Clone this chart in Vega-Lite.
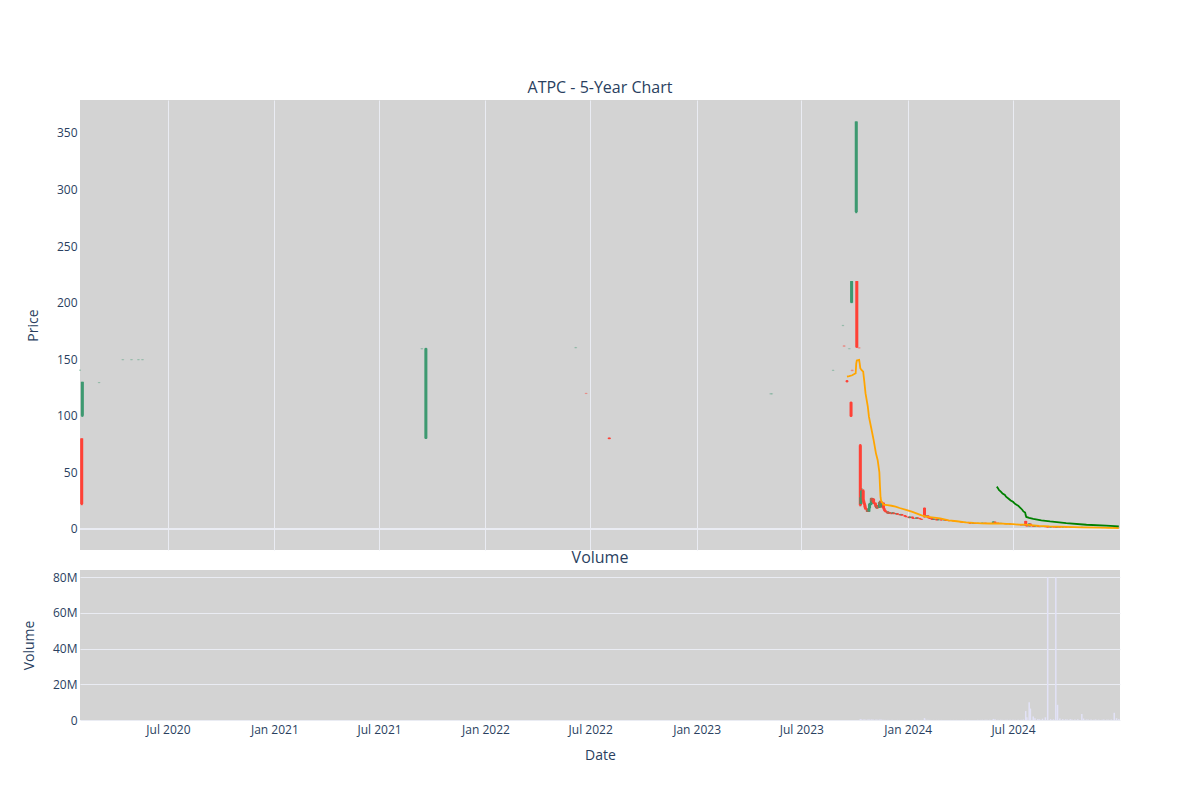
{
  "$schema": "https://vega.github.io/schema/vega-lite/v6.json",
  "background": "white",
  "padding": {"left": 22, "top": 80, "right": 40, "bottom": 20},
  "spacing": 20,
  "bounds": "flush",
  "datasets": {
    "candles": [
      {"date": "2020-01-31", "open": 140, "high": 140.8, "low": 139.5, "close": 140, "volume": 200},
      {"date": "2020-02-03", "open": 80, "high": 80, "low": 21, "close": 22, "volume": 5000},
      {"date": "2020-02-04", "open": 100, "high": 130, "low": 99, "close": 130, "volume": 3000},
      {"date": "2020-03-04", "open": 129, "high": 129.8, "low": 128.8, "close": 129.3, "volume": 100},
      {"date": "2020-04-14", "open": 149.3, "high": 150, "low": 149, "close": 149.6, "volume": 100},
      {"date": "2020-04-29", "open": 149.3, "high": 150, "low": 149, "close": 149.6, "volume": 100},
      {"date": "2020-05-11", "open": 149.3, "high": 150, "low": 149, "close": 149.6, "volume": 100},
      {"date": "2020-05-18", "open": 149.3, "high": 150, "low": 149, "close": 149.6, "volume": 100},
      {"date": "2021-09-13", "open": 159, "high": 159.8, "low": 158.6, "close": 159.3, "volume": 100},
      {"date": "2021-09-20", "open": 80, "high": 160, "low": 79.5, "close": 159.5, "volume": 3000},
      {"date": "2022-06-06", "open": 160, "high": 160.8, "low": 159.6, "close": 160.3, "volume": 100},
      {"date": "2022-06-24", "open": 120, "high": 120.3, "low": 119.2, "close": 119.5, "volume": 100},
      {"date": "2022-08-03", "open": 80.5, "high": 80.8, "low": 79.3, "close": 79.5, "volume": 1500},
      {"date": "2023-05-09", "open": 119.2, "high": 119.8, "low": 118.9, "close": 119.4, "volume": 100},
      {"date": "2023-05-11", "open": 119.2, "high": 119.8, "low": 118.9, "close": 119.4, "volume": 100},
      {"date": "2023-08-25", "open": 140, "high": 140.7, "low": 139.6, "close": 140.2, "volume": 100},
      {"date": "2023-09-11", "open": 179.6, "high": 180.3, "low": 179.2, "close": 179.8, "volume": 100},
      {"date": "2023-09-13", "open": 162, "high": 162.3, "low": 161, "close": 161.2, "volume": 100},
      {"date": "2023-09-18", "open": 131, "high": 131.5, "low": 129.5, "close": 130, "volume": 1500},
      {"date": "2023-09-22", "open": 159, "high": 159.7, "low": 158.7, "close": 159.2, "volume": 100},
      {"date": "2023-09-25", "open": 112, "high": 112.5, "low": 99, "close": 99.5, "volume": 2000},
      {"date": "2023-09-26", "open": 200, "high": 219, "low": 199.5, "close": 219, "volume": 3000},
      {"date": "2023-09-27", "open": 140.5, "high": 140.8, "low": 139.3, "close": 139.6, "volume": 100},
      {"date": "2023-10-04", "open": 280, "high": 360, "low": 279, "close": 360, "volume": 5000},
      {"date": "2023-10-05", "open": 219, "high": 219, "low": 160, "close": 160.5, "volume": 5000},
      {"date": "2023-10-09", "open": 160.3, "high": 160.6, "low": 159.4, "close": 159.6, "volume": 100},
      {"date": "2023-10-11", "open": 74, "high": 75, "low": 20, "close": 21, "volume": 500000},
      {"date": "2023-10-12", "open": 22, "high": 30, "low": 21, "close": 28, "volume": 250000},
      {"date": "2023-10-13", "open": 28, "high": 36, "low": 26, "close": 34, "volume": 300000},
      {"date": "2023-10-16", "open": 34, "high": 35, "low": 24, "close": 25, "volume": 200000},
      {"date": "2023-10-17", "open": 25, "high": 26, "low": 22, "close": 23, "volume": 150000},
      {"date": "2023-10-18", "open": 23, "high": 24, "low": 21, "close": 21.5, "volume": 120000},
      {"date": "2023-10-19", "open": 21.5, "high": 22, "low": 18, "close": 19, "volume": 130000},
      {"date": "2023-10-20", "open": 19, "high": 20, "low": 17, "close": 17.5, "volume": 110000},
      {"date": "2023-10-23", "open": 17.5, "high": 18, "low": 15, "close": 15.5, "volume": 120000},
      {"date": "2023-10-24", "open": 15.5, "high": 17, "low": 15, "close": 16.5, "volume": 90000},
      {"date": "2023-10-25", "open": 16.5, "high": 17, "low": 15, "close": 15.3, "volume": 80000},
      {"date": "2023-10-26", "open": 15.3, "high": 19, "low": 15, "close": 18.5, "volume": 160000},
      {"date": "2023-10-27", "open": 18.5, "high": 23, "low": 18, "close": 22, "volume": 200000},
      {"date": "2023-10-30", "open": 22, "high": 27.5, "low": 21, "close": 27, "volume": 260000},
      {"date": "2023-10-31", "open": 27, "high": 27.5, "low": 24, "close": 25, "volume": 150000},
      {"date": "2023-11-01", "open": 25, "high": 26, "low": 23, "close": 24, "volume": 100000},
      {"date": "2023-11-02", "open": 24, "high": 27, "low": 23.5, "close": 26.5, "volume": 120000},
      {"date": "2023-11-03", "open": 26.5, "high": 27, "low": 22, "close": 23, "volume": 110000},
      {"date": "2023-11-06", "open": 23, "high": 23.5, "low": 20, "close": 21, "volume": 90000},
      {"date": "2023-11-07", "open": 21, "high": 22, "low": 19, "close": 19.5, "volume": 80000},
      {"date": "2023-11-08", "open": 19.5, "high": 20, "low": 18, "close": 18.5, "volume": 70000},
      {"date": "2023-11-09", "open": 18.5, "high": 21, "low": 18, "close": 20.5, "volume": 90000},
      {"date": "2023-11-10", "open": 20.5, "high": 21, "low": 18, "close": 18.8, "volume": 80000},
      {"date": "2023-11-13", "open": 18.8, "high": 24, "low": 18.5, "close": 23.5, "volume": 180000},
      {"date": "2023-11-14", "open": 23.5, "high": 25, "low": 21, "close": 22, "volume": 120000},
      {"date": "2023-11-15", "open": 22, "high": 24.5, "low": 21.5, "close": 24, "volume": 110000},
      {"date": "2023-11-16", "open": 24, "high": 24.5, "low": 19, "close": 19.5, "volume": 100000},
      {"date": "2023-11-17", "open": 19.5, "high": 24, "low": 19, "close": 23, "volume": 120000},
      {"date": "2023-11-20", "open": 23, "high": 23.5, "low": 18, "close": 18.5, "volume": 90000},
      {"date": "2023-11-21", "open": 18.5, "high": 19, "low": 17, "close": 17.2, "volume": 70000},
      {"date": "2023-11-22", "open": 17.2, "high": 17.5, "low": 15.5, "close": 16, "volume": 60000},
      {"date": "2023-11-24", "open": 16, "high": 16.5, "low": 14.5, "close": 15, "volume": 50000},
      {"date": "2023-11-27", "open": 15, "high": 15.5, "low": 13.5, "close": 14, "volume": 60000},
      {"date": "2023-11-28", "open": 14, "high": 15.5, "low": 13.8, "close": 15, "volume": 70000},
      {"date": "2023-11-29", "open": 15, "high": 15.2, "low": 13.5, "close": 14, "volume": 50000},
      {"date": "2023-11-30", "open": 14, "high": 14.8, "low": 13.6, "close": 14.5, "volume": 50000},
      {"date": "2023-12-01", "open": 14.5, "high": 14.8, "low": 13.5, "close": 13.8, "volume": 40000},
      {"date": "2023-12-04", "open": 13.8, "high": 14.5, "low": 13, "close": 13.5, "volume": 50000},
      {"date": "2023-12-06", "open": 13.5, "high": 14.8, "low": 13.2, "close": 14.3, "volume": 60000},
      {"date": "2023-12-08", "open": 14.3, "high": 14.5, "low": 13, "close": 13.2, "volume": 40000},
      {"date": "2023-12-12", "open": 13.2, "high": 14, "low": 12.8, "close": 13.8, "volume": 50000},
      {"date": "2023-12-14", "open": 13.8, "high": 14, "low": 12.5, "close": 12.8, "volume": 40000},
      {"date": "2023-12-18", "open": 12.8, "high": 13.2, "low": 12, "close": 12.4, "volume": 40000},
      {"date": "2023-12-20", "open": 12.4, "high": 13.3, "low": 12, "close": 13, "volume": 50000},
      {"date": "2023-12-22", "open": 13, "high": 13.2, "low": 11.8, "close": 12, "volume": 40000},
      {"date": "2023-12-27", "open": 12, "high": 12.3, "low": 10.8, "close": 11.2, "volume": 50000},
      {"date": "2023-12-29", "open": 11.2, "high": 11.6, "low": 10.3, "close": 10.6, "volume": 50000},
      {"date": "2024-01-03", "open": 10.6, "high": 11, "low": 9.5, "close": 9.8, "volume": 60000},
      {"date": "2024-01-05", "open": 9.8, "high": 11, "low": 9.6, "close": 10.7, "volume": 70000},
      {"date": "2024-01-09", "open": 10.7, "high": 11, "low": 9.3, "close": 9.6, "volume": 50000},
      {"date": "2024-01-11", "open": 9.6, "high": 9.9, "low": 8.8, "close": 9.1, "volume": 40000},
      {"date": "2024-01-16", "open": 9.1, "high": 10.2, "low": 9, "close": 10, "volume": 60000},
      {"date": "2024-01-18", "open": 10, "high": 10.3, "low": 9, "close": 9.4, "volume": 40000},
      {"date": "2024-01-22", "open": 9.4, "high": 9.8, "low": 8.5, "close": 8.8, "volume": 40000},
      {"date": "2024-01-25", "open": 8.8, "high": 9, "low": 8, "close": 8.4, "volume": 40000},
      {"date": "2024-01-30", "open": 18.5, "high": 19, "low": 10, "close": 11, "volume": 1100000},
      {"date": "2024-02-01", "open": 11, "high": 12, "low": 10.5, "close": 11.8, "volume": 200000},
      {"date": "2024-02-05", "open": 11.8, "high": 12, "low": 9.5, "close": 10, "volume": 100000},
      {"date": "2024-02-08", "open": 10, "high": 10.3, "low": 8.8, "close": 9.2, "volume": 60000},
      {"date": "2024-02-12", "open": 9.2, "high": 9.5, "low": 8, "close": 8.3, "volume": 50000},
      {"date": "2024-02-15", "open": 8.3, "high": 9.2, "low": 8, "close": 8.9, "volume": 50000},
      {"date": "2024-02-20", "open": 8.9, "high": 9, "low": 7.5, "close": 7.8, "volume": 40000},
      {"date": "2024-02-23", "open": 7.8, "high": 8.6, "low": 7.6, "close": 8.3, "volume": 40000},
      {"date": "2024-02-28", "open": 8.3, "high": 8.5, "low": 7.4, "close": 7.7, "volume": 40000},
      {"date": "2024-03-04", "open": 7.7, "high": 8.5, "low": 7.5, "close": 8.2, "volume": 50000},
      {"date": "2024-03-07", "open": 8.2, "high": 8.3, "low": 7.2, "close": 7.4, "volume": 40000},
      {"date": "2024-03-12", "open": 7.4, "high": 7.7, "low": 6.8, "close": 7.1, "volume": 40000},
      {"date": "2024-03-15", "open": 7.1, "high": 7.9, "low": 7, "close": 7.6, "volume": 50000},
      {"date": "2024-03-20", "open": 7.6, "high": 7.7, "low": 6.7, "close": 6.9, "volume": 40000},
      {"date": "2024-03-25", "open": 6.9, "high": 7.1, "low": 6.2, "close": 6.4, "volume": 40000},
      {"date": "2024-03-28", "open": 6.4, "high": 7, "low": 6.2, "close": 6.8, "volume": 50000},
      {"date": "2024-04-02", "open": 6.8, "high": 6.9, "low": 5.8, "close": 6, "volume": 50000},
      {"date": "2024-04-05", "open": 6, "high": 6.2, "low": 5.4, "close": 5.6, "volume": 50000},
      {"date": "2024-04-10", "open": 5.6, "high": 6.3, "low": 5.5, "close": 6.1, "volume": 60000},
      {"date": "2024-04-15", "open": 6.1, "high": 6.2, "low": 5.1, "close": 5.3, "volume": 50000},
      {"date": "2024-04-18", "open": 5.3, "high": 5.5, "low": 4.6, "close": 4.8, "volume": 60000},
      {"date": "2024-04-23", "open": 4.8, "high": 5.5, "low": 4.7, "close": 5.3, "volume": 70000},
      {"date": "2024-04-26", "open": 5.3, "high": 5.4, "low": 4.5, "close": 4.7, "volume": 60000},
      {"date": "2024-05-01", "open": 4.7, "high": 5.4, "low": 4.6, "close": 5.2, "volume": 80000},
      {"date": "2024-05-06", "open": 5.2, "high": 5.3, "low": 4.4, "close": 4.6, "volume": 70000},
      {"date": "2024-05-09", "open": 4.6, "high": 5.6, "low": 4.5, "close": 5.4, "volume": 150000},
      {"date": "2024-05-14", "open": 5.4, "high": 5.5, "low": 4.6, "close": 4.8, "volume": 100000},
      {"date": "2024-05-17", "open": 4.8, "high": 5.3, "low": 4.7, "close": 5.1, "volume": 120000},
      {"date": "2024-05-22", "open": 5.1, "high": 5.2, "low": 4.4, "close": 4.6, "volume": 200000},
      {"date": "2024-05-28", "open": 4.6, "high": 6.8, "low": 4.5, "close": 6.3, "volume": 600000},
      {"date": "2024-05-31", "open": 6.3, "high": 6.5, "low": 5.2, "close": 5.4, "volume": 400000},
      {"date": "2024-06-05", "open": 5.4, "high": 5.5, "low": 4.7, "close": 4.9, "volume": 200000},
      {"date": "2024-06-10", "open": 4.9, "high": 5.4, "low": 4.8, "close": 5.2, "volume": 150000},
      {"date": "2024-06-13", "open": 5.2, "high": 5.3, "low": 4.5, "close": 4.6, "volume": 100000},
      {"date": "2024-06-18", "open": 4.6, "high": 4.8, "low": 4.1, "close": 4.3, "volume": 100000},
      {"date": "2024-06-21", "open": 4.3, "high": 4.9, "low": 4.2, "close": 4.7, "volume": 120000},
      {"date": "2024-06-26", "open": 4.7, "high": 4.8, "low": 4, "close": 4.2, "volume": 100000},
      {"date": "2024-07-01", "open": 4.2, "high": 4.4, "low": 3.7, "close": 3.9, "volume": 100000},
      {"date": "2024-07-05", "open": 3.9, "high": 4.3, "low": 3.8, "close": 4.1, "volume": 100000},
      {"date": "2024-07-10", "open": 4.1, "high": 4.2, "low": 3.4, "close": 3.6, "volume": 150000},
      {"date": "2024-07-15", "open": 3.6, "high": 3.8, "low": 3.1, "close": 3.3, "volume": 200000},
      {"date": "2024-07-19", "open": 3.3, "high": 3.7, "low": 3.2, "close": 3.5, "volume": 300000},
      {"date": "2024-07-23", "open": 7, "high": 7.2, "low": 2.8, "close": 3, "volume": 5000000},
      {"date": "2024-07-25", "open": 3, "high": 3.2, "low": 2.2, "close": 2.4, "volume": 1500000},
      {"date": "2024-07-29", "open": 2.4, "high": 5, "low": 2.3, "close": 4.6, "volume": 10000000},
      {"date": "2024-07-31", "open": 4.6, "high": 4.8, "low": 2.3, "close": 2.5, "volume": 6400000},
      {"date": "2024-08-05", "open": 2.5, "high": 2.7, "low": 1.9, "close": 2.1, "volume": 2000000},
      {"date": "2024-08-08", "open": 2.1, "high": 2.6, "low": 2, "close": 2.4, "volume": 1000000},
      {"date": "2024-08-13", "open": 2.4, "high": 2.5, "low": 1.8, "close": 2, "volume": 600000},
      {"date": "2024-08-16", "open": 2, "high": 2.1, "low": 1.6, "close": 1.8, "volume": 400000},
      {"date": "2024-08-21", "open": 1.8, "high": 2.3, "low": 1.7, "close": 2.1, "volume": 700000},
      {"date": "2024-08-26", "open": 2.1, "high": 2.2, "low": 1.5, "close": 1.7, "volume": 1500000},
      {"date": "2024-08-30", "open": 1.7, "high": 2.6, "low": 1.2, "close": 1.4, "volume": 80000000},
      {"date": "2024-09-04", "open": 1.4, "high": 1.9, "low": 1.3, "close": 1.7, "volume": 500000},
      {"date": "2024-09-09", "open": 1.7, "high": 1.8, "low": 1.3, "close": 1.5, "volume": 400000},
      {"date": "2024-09-13", "open": 1.5, "high": 2.2, "low": 1.1, "close": 1.3, "volume": 80000000},
      {"date": "2024-09-16", "open": 1.3, "high": 1.7, "low": 1.2, "close": 1.5, "volume": 8500000},
      {"date": "2024-09-20", "open": 1.5, "high": 1.6, "low": 1.1, "close": 1.2, "volume": 800000},
      {"date": "2024-09-25", "open": 1.2, "high": 1.6, "low": 1.1, "close": 1.4, "volume": 500000},
      {"date": "2024-09-30", "open": 1.4, "high": 1.5, "low": 1.1, "close": 1.2, "volume": 400000},
      {"date": "2024-10-03", "open": 1.2, "high": 1.3, "low": 1, "close": 1.1, "volume": 300000},
      {"date": "2024-10-08", "open": 1.1, "high": 1.5, "low": 1.05, "close": 1.3, "volume": 500000},
      {"date": "2024-10-11", "open": 1.3, "high": 1.35, "low": 1, "close": 1.1, "volume": 300000},
      {"date": "2024-10-16", "open": 1.1, "high": 1.2, "low": 0.95, "close": 1, "volume": 250000},
      {"date": "2024-10-21", "open": 1, "high": 1.3, "low": 0.95, "close": 1.2, "volume": 400000},
      {"date": "2024-10-28", "open": 1.2, "high": 1.9, "low": 1.1, "close": 1.6, "volume": 3400000},
      {"date": "2024-10-31", "open": 1.6, "high": 1.7, "low": 1.1, "close": 1.2, "volume": 800000},
      {"date": "2024-11-05", "open": 1.2, "high": 1.25, "low": 0.95, "close": 1, "volume": 300000},
      {"date": "2024-11-08", "open": 1, "high": 1.2, "low": 0.95, "close": 1.1, "volume": 300000},
      {"date": "2024-11-13", "open": 1.1, "high": 1.15, "low": 0.9, "close": 0.95, "volume": 250000},
      {"date": "2024-11-18", "open": 0.95, "high": 1, "low": 0.85, "close": 0.9, "volume": 200000},
      {"date": "2024-11-21", "open": 0.9, "high": 1.1, "low": 0.88, "close": 1, "volume": 300000},
      {"date": "2024-11-26", "open": 1, "high": 1.05, "low": 0.85, "close": 0.88, "volume": 200000},
      {"date": "2024-12-02", "open": 0.88, "high": 0.92, "low": 0.8, "close": 0.84, "volume": 200000},
      {"date": "2024-12-05", "open": 0.84, "high": 0.98, "low": 0.82, "close": 0.92, "volume": 250000},
      {"date": "2024-12-10", "open": 0.92, "high": 0.95, "low": 0.8, "close": 0.83, "volume": 200000},
      {"date": "2024-12-13", "open": 0.83, "high": 0.86, "low": 0.75, "close": 0.78, "volume": 200000},
      {"date": "2024-12-18", "open": 0.78, "high": 0.9, "low": 0.76, "close": 0.85, "volume": 300000},
      {"date": "2024-12-23", "open": 0.85, "high": 1.4, "low": 0.8, "close": 1.2, "volume": 4000000},
      {"date": "2024-12-27", "open": 1.2, "high": 1.25, "low": 0.8, "close": 0.85, "volume": 1000000},
      {"date": "2024-12-31", "open": 0.85, "high": 0.9, "low": 0.75, "close": 0.8, "volume": 500000}
    ],
    "ma": [
      {"date": "2023-09-18", "value": 134.6, "series": "MA20"},
      {"date": "2023-09-22", "value": 135, "series": "MA20"},
      {"date": "2023-09-27", "value": 135.8, "series": "MA20"},
      {"date": "2023-10-03", "value": 137.5, "series": "MA20"},
      {"date": "2023-10-04", "value": 146, "series": "MA20"},
      {"date": "2023-10-05", "value": 148.8, "series": "MA20"},
      {"date": "2023-10-09", "value": 149.4, "series": "MA20"},
      {"date": "2023-10-10", "value": 146, "series": "MA20"},
      {"date": "2023-10-11", "value": 142, "series": "MA20"},
      {"date": "2023-10-13", "value": 140.5, "series": "MA20"},
      {"date": "2023-10-16", "value": 139, "series": "MA20"},
      {"date": "2023-10-18", "value": 130, "series": "MA20"},
      {"date": "2023-10-20", "value": 120, "series": "MA20"},
      {"date": "2023-10-24", "value": 108, "series": "MA20"},
      {"date": "2023-10-26", "value": 99, "series": "MA20"},
      {"date": "2023-10-30", "value": 89, "series": "MA20"},
      {"date": "2023-11-03", "value": 78.7, "series": "MA20"},
      {"date": "2023-11-07", "value": 67, "series": "MA20"},
      {"date": "2023-11-10", "value": 61, "series": "MA20"},
      {"date": "2023-11-13", "value": 50, "series": "MA20"},
      {"date": "2023-11-14", "value": 38, "series": "MA20"},
      {"date": "2023-11-15", "value": 28, "series": "MA20"},
      {"date": "2023-11-16", "value": 25, "series": "MA20"},
      {"date": "2023-11-20", "value": 21.5, "series": "MA20"},
      {"date": "2023-11-27", "value": 21, "series": "MA20"},
      {"date": "2023-12-04", "value": 20.5, "series": "MA20"},
      {"date": "2023-12-11", "value": 19.7, "series": "MA20"},
      {"date": "2023-12-18", "value": 18.5, "series": "MA20"},
      {"date": "2023-12-29", "value": 16.8, "series": "MA20"},
      {"date": "2024-01-08", "value": 15.3, "series": "MA20"},
      {"date": "2024-01-16", "value": 13.8, "series": "MA20"},
      {"date": "2024-01-25", "value": 12, "series": "MA20"},
      {"date": "2024-02-02", "value": 10.9, "series": "MA20"},
      {"date": "2024-02-12", "value": 10.2, "series": "MA20"},
      {"date": "2024-02-26", "value": 9.3, "series": "MA20"},
      {"date": "2024-03-12", "value": 7.6, "series": "MA20"},
      {"date": "2024-03-26", "value": 6.8, "series": "MA20"},
      {"date": "2024-04-10", "value": 5.8, "series": "MA20"},
      {"date": "2024-04-24", "value": 5.3, "series": "MA20"},
      {"date": "2024-05-08", "value": 5, "series": "MA20"},
      {"date": "2024-05-22", "value": 4.8, "series": "MA20"},
      {"date": "2024-06-06", "value": 4.9, "series": "MA20"},
      {"date": "2024-06-20", "value": 4.5, "series": "MA20"},
      {"date": "2024-07-01", "value": 4.2, "series": "MA20"},
      {"date": "2024-07-12", "value": 3.8, "series": "MA20"},
      {"date": "2024-07-23", "value": 3.8, "series": "MA20"},
      {"date": "2024-08-01", "value": 3.4, "series": "MA20"},
      {"date": "2024-08-15", "value": 2.7, "series": "MA20"},
      {"date": "2024-09-02", "value": 2.2, "series": "MA20"},
      {"date": "2024-10-01", "value": 1.8, "series": "MA20"},
      {"date": "2024-10-28", "value": 1.4, "series": "MA20"},
      {"date": "2024-11-28", "value": 1.1, "series": "MA20"},
      {"date": "2024-12-31", "value": 0.8, "series": "MA20"},
      {"date": "2024-06-03", "value": 37.4, "series": "MA200"},
      {"date": "2024-06-05", "value": 36, "series": "MA200"},
      {"date": "2024-06-07", "value": 34.3, "series": "MA200"},
      {"date": "2024-06-10", "value": 33, "series": "MA200"},
      {"date": "2024-06-13", "value": 31.2, "series": "MA200"},
      {"date": "2024-06-17", "value": 30, "series": "MA200"},
      {"date": "2024-06-19", "value": 28.5, "series": "MA200"},
      {"date": "2024-06-24", "value": 26.5, "series": "MA200"},
      {"date": "2024-06-27", "value": 25.2, "series": "MA200"},
      {"date": "2024-07-01", "value": 24, "series": "MA200"},
      {"date": "2024-07-05", "value": 22, "series": "MA200"},
      {"date": "2024-07-10", "value": 20.6, "series": "MA200"},
      {"date": "2024-07-12", "value": 19.5, "series": "MA200"},
      {"date": "2024-07-17", "value": 17, "series": "MA200"},
      {"date": "2024-07-19", "value": 15.5, "series": "MA200"},
      {"date": "2024-07-22", "value": 14.5, "series": "MA200"},
      {"date": "2024-07-23", "value": 12.2, "series": "MA200"},
      {"date": "2024-07-24", "value": 10.6, "series": "MA200"},
      {"date": "2024-07-29", "value": 9.8, "series": "MA200"},
      {"date": "2024-08-05", "value": 8.8, "series": "MA200"},
      {"date": "2024-08-19", "value": 7.6, "series": "MA200"},
      {"date": "2024-09-03", "value": 6.6, "series": "MA200"},
      {"date": "2024-10-01", "value": 5.1, "series": "MA200"},
      {"date": "2024-11-05", "value": 3.7, "series": "MA200"},
      {"date": "2024-12-09", "value": 2.9, "series": "MA200"},
      {"date": "2024-12-31", "value": 2.3, "series": "MA200"}
    ]
  },
  "vconcat": [
    {
      "title": "ATPC - 5-Year Chart",
      "width": 1040,
      "height": 450,
      "layer": [
        {
          "data": {"values": [{}]},
          "mark": {"type": "rule", "color": "#eaecf3", "strokeWidth": 2},
          "encoding": {
            "y": {"datum": 0, "type": "quantitative", "scale": {"domain": [-18.6, 379], "nice": false, "zero": false, "padding": 0}}
          }
        },
        {
          "data": {"name": "candles"},
          "mark": {"type": "rule", "strokeWidth": 2},
          "encoding": {
            "x": {"field": "date", "type": "temporal", "scale": {"type": "utc", "nice": false, "padding": 0, "domain": [{"year": 2020, "month": 1, "date": 31, "utc": true}, {"year": 2025, "month": 1, "date": 2, "utc": true}]},
              "axis": {"values": [
                {"year": 2020, "month": 7, "date": 1, "utc": true}, {"year": 2021, "month": 1, "date": 1, "utc": true},
                {"year": 2021, "month": 7, "date": 1, "utc": true}, {"year": 2022, "month": 1, "date": 1, "utc": true},
                {"year": 2022, "month": 7, "date": 1, "utc": true}, {"year": 2023, "month": 1, "date": 1, "utc": true},
                {"year": 2023, "month": 7, "date": 1, "utc": true}, {"year": 2024, "month": 1, "date": 1, "utc": true},
                {"year": 2024, "month": 7, "date": 1, "utc": true}], "labels": false, "title": null, "grid": true}},
            "y": {"field": "low", "type": "quantitative", "axis": {"values": [0, 50, 100, 150, 200, 250, 300, 350], "title": "Price", "titlePadding": 16, "labelPadding": 3}},
            "y2": {"field": "high"},
            "color": {"condition": {"test": "datum.close >= datum.open", "value": "#3D9970"}, "value": "#FF4136"},
            "opacity": {"condition": {"test": "datum.volume < 1000", "value": 0.35}, "value": 1}
          }
        },
        {
          "data": {"name": "candles"},
          "mark": {"type": "bar", "size": 3},
          "encoding": {
            "x": {"field": "date", "type": "temporal"},
            "y": {"field": "open", "type": "quantitative"},
            "y2": {"field": "close"},
            "color": {"condition": {"test": "datum.close >= datum.open", "value": "#3D9970"}, "value": "#FF4136"},
            "opacity": {"condition": {"test": "datum.volume < 1000", "value": 0.35}, "value": 1}
          }
        },
        {
          "data": {"name": "ma"},
          "mark": {"type": "line", "strokeWidth": 1.8},
          "encoding": {
            "x": {"field": "date", "type": "temporal"},
            "y": {"field": "value", "type": "quantitative"},
            "color": {"field": "series", "type": "nominal", "scale": {"domain": ["MA20", "MA200"], "range": ["#FFA500", "#008000"]}, "legend": null}
          }
        }
      ]
    },
    {
      "title": "Volume",
      "width": 1040,
      "height": 150,
      "layer": [
        {
          "data": {"name": "candles"},
          "mark": {"type": "bar", "size": 1.5, "color": "#e2e2f7"},
          "encoding": {
            "x": {"field": "date", "type": "temporal", "scale": {"type": "utc", "nice": false, "padding": 0, "domain": [{"year": 2020, "month": 1, "date": 31, "utc": true}, {"year": 2025, "month": 1, "date": 2, "utc": true}]},
              "axis": {"values": [
                {"year": 2020, "month": 7, "date": 1, "utc": true}, {"year": 2021, "month": 1, "date": 1, "utc": true},
                {"year": 2021, "month": 7, "date": 1, "utc": true}, {"year": 2022, "month": 1, "date": 1, "utc": true},
                {"year": 2022, "month": 7, "date": 1, "utc": true}, {"year": 2023, "month": 1, "date": 1, "utc": true},
                {"year": 2023, "month": 7, "date": 1, "utc": true}, {"year": 2024, "month": 1, "date": 1, "utc": true},
                {"year": 2024, "month": 7, "date": 1, "utc": true}], "format": "%b %Y", "grid": false, "title": "Date", "labelPadding": 4, "titlePadding": 13}},
            "y": {"field": "volume", "type": "quantitative", "scale": {"domain": [0, 84000000], "nice": false, "padding": 0},
              "axis": {"values": [0, 20000000, 40000000, 60000000, 80000000], "labelExpr": "datum.value == 0 ? '0' : (datum.value / 1000000) + 'M'", "title": "Volume", "titlePadding": 16, "labelPadding": 3}}
          }
        }
      ]
    }
  ],
  "config": {
    "view": {"fill": "#d3d3d3", "stroke": null},
    "font": "Open Sans",
    "axis": {"labelColor": "#2a3f5f", "titleColor": "#2a3f5f", "labelFontSize": 12, "titleFontSize": 14, "titleFontWeight": "normal", "gridColor": "#eaecf3", "gridOpacity": 1, "gridWidth": 1, "domain": false, "ticks": false, "labelFont": "Open Sans", "titleFont": "Open Sans"},
    "title": {"color": "#2a3f5f", "fontSize": 16, "fontWeight": "normal", "anchor": "middle", "font": "Open Sans"}
  }
}
